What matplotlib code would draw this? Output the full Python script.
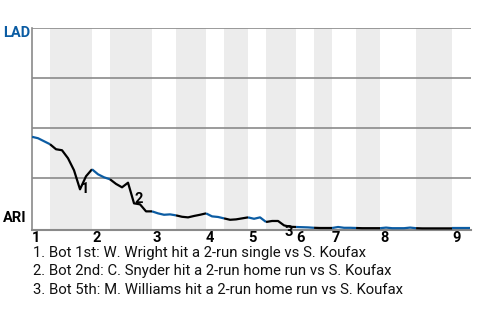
import matplotlib
matplotlib.use('Agg')
import matplotlib.pyplot as plt

plt.rcParams['font.family'] = ['Roboto', 'DejaVu Sans']

# LAD win probability after each plate appearance (0 = ARI wins, 1 = LAD wins)
win_prob = [0.457, 0.45, 0.435, 0.42, 0.395, 0.39, 0.35, 0.29, 0.195, 0.26,
            0.295, 0.27, 0.255, 0.245, 0.222, 0.205, 0.228, 0.125, 0.12, 0.085,
            0.085, 0.075, 0.068, 0.07, 0.065, 0.058, 0.055, 0.062, 0.068, 0.075,
            0.06, 0.057, 0.05, 0.043, 0.045, 0.05, 0.055, 0.048, 0.055, 0.032,
            0.037, 0.037, 0.015, 0.008, 0.007, 0.006, 0.005, 0.003, 0.002, 0.002,
            0.002, 0.007, 0.003, 0.003, 0.002, 0.001, 0.001, 0.001, 0.001, 0.004,
            0.001, 0.001, 0.001, 0.004, 0.001, 0.0, 0.0, 0.0, 0.0, 0.0,
            0.0, 0.0, 0.0, 0.0]

# plate appearances in each half inning (top 1st, bot 1st, top 2nd, ...)
half_pa = [3, 7, 3, 7, 4, 5, 3, 4, 3, 5, 3, 3, 4, 4, 6, 6, 3]
innings = ['1', '2', '3', '4', '5', '6', '7', '8', '9']

# key plays: (plate appearance index, label)
key_plays = [(8, '1'), (17, '2'), (42, '3')]
key_text = ['1. Bot 1st: W. Wright hit a 2-run single vs S. Koufax',
            '2. Bot 2nd: C. Snyder hit a 2-run home run vs S. Koufax',
            '3. Bot 5th: M. Williams hit a 2-run home run vs S. Koufax']
key_offsets = [(0.5, 0), (0, 3), (0, -5)]

lad_blue = '#0b5ca3'

fig = plt.figure(figsize=(4.8, 3.2), dpi=100)
ax = fig.add_axes([32 / 480, 1 - 230 / 320, 439 / 480, 202 / 320])

# half inning boundaries
starts = [0]
for n in half_pa:
    starts.append(starts[-1] + n)

for i in range(len(half_pa)):
    s, e = starts[i], starts[i + 1]
    if i % 2 == 1:
        ax.axvspan(s, e, color='#ececec', lw=0, zorder=0)
    col = lad_blue if i % 2 == 0 else 'black'
    ax.plot(range(s, e + 1), win_prob[s:e + 1], color=col, lw=1.6,
            solid_capstyle='butt', zorder=3)

for y in [0.25, 0.5, 0.75, 1.0]:
    ax.axhline(y, color='#8a8a8a', lw=1.2, zorder=1)

for (idx, lab), off in zip(key_plays, key_offsets):
    ax.annotate(lab, (idx, win_prob[idx]), xytext=off, textcoords='offset points',
                ha='left', va='center', fontsize=10.5, fontweight='bold', zorder=4)

ax.set_xlim(0, starts[-1] + 0.15)
ax.set_ylim(-0.008, 1.0)
ax.set_yticks([])
ax.set_xticks([starts[i] for i in range(0, len(half_pa), 2)])
ax.set_xticklabels(innings, fontsize=10.5, fontweight='bold', ha='left')
ax.tick_params(axis='x', length=0, pad=1)

for side in ['top', 'right']:
    ax.spines[side].set_visible(False)
ax.spines['left'].set_color('#8a8a8a')
ax.spines['bottom'].set_color('#8a8a8a')
ax.spines['left'].set_linewidth(1.2)
ax.spines['bottom'].set_linewidth(1.5)

fig.text(3 / 480, 1 - 33 / 320, 'LAD', color=lad_blue, fontsize=10.5,
         fontweight='bold', ha='left', va='center')
fig.text(3 / 480, 1 - 218 / 320, 'ARI', color='black', fontsize=10.5,
         fontweight='bold', ha='left', va='center')

for i, txt in enumerate(key_text):
    fig.text(33 / 480, 1 - (253 + 18.5 * i) / 320, txt, fontsize=10.7,
             ha='left', va='center', color='#111111')

fig.savefig('out.png', dpi=100)
